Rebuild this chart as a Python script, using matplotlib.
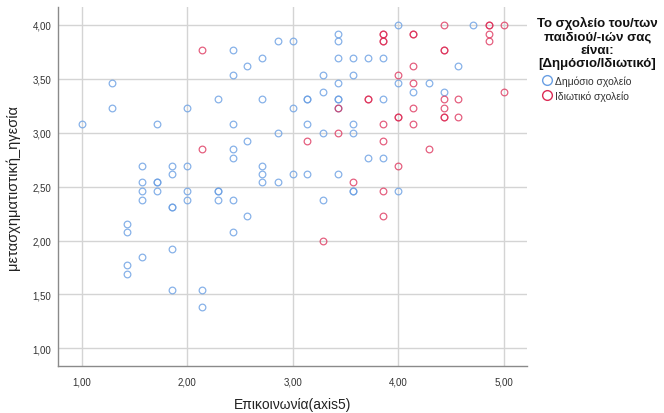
import matplotlib
matplotlib.use("Agg")
import matplotlib.pyplot as plt
from matplotlib.lines import Line2D
from matplotlib.ticker import FuncFormatter

plt.rcParams['font.family'] = ['Liberation Sans', 'DejaVu Sans']

# Δημόσιο σχολείο
public_x = [1.00, 1.29, 1.29, 1.71, 2.00, 2.29, 2.43, 2.43, 2.57, 2.71, 2.71, 2.43,
            2.86, 3.00, 3.43, 3.43, 3.43, 3.57, 3.71, 3.86, 3.29, 3.57, 3.43, 3.29,
            3.14, 3.14, 3.43, 3.43, 3.86, 3.00, 3.43, 3.14, 3.57, 2.86, 3.29, 3.57,
            2.57, 2.43, 2.43, 3.71, 3.86, 1.57, 1.86, 2.00, 2.71, 1.86, 2.71, 3.00,
            3.14, 3.43, 1.57, 1.71, 1.71, 2.71, 2.86, 1.57, 1.71, 2.00, 2.29, 2.29,
            3.57, 3.57, 4.00, 1.57, 2.00, 2.29, 2.43, 3.29, 1.86, 1.86, 2.57, 1.43,
            1.43, 2.43, 1.86, 1.57, 1.43, 1.43, 1.86, 2.14, 2.14, 4.00, 4.71, 4.57,
            4.00, 4.29, 4.14, 4.43]
public_y = [3.08, 3.46, 3.23, 3.08, 3.23, 3.31, 3.77, 3.54, 3.62, 3.69, 3.31, 3.08,
            3.85, 3.85, 3.92, 3.85, 3.69, 3.69, 3.69, 3.69, 3.54, 3.54, 3.46, 3.38,
            3.31, 3.31, 3.31, 3.31, 3.31, 3.23, 3.23, 3.08, 3.08, 3.00, 3.00, 3.00,
            2.92, 2.85, 2.77, 2.77, 2.77, 2.69, 2.69, 2.69, 2.69, 2.62, 2.62, 2.62,
            2.62, 2.62, 2.54, 2.54, 2.54, 2.54, 2.54, 2.46, 2.46, 2.46, 2.46, 2.46,
            2.46, 2.46, 2.46, 2.38, 2.38, 2.38, 2.38, 2.38, 2.31, 2.31, 2.23, 2.15,
            2.08, 2.08, 1.92, 1.85, 1.77, 1.69, 1.54, 1.54, 1.38, 4.00, 4.00, 3.62,
            3.46, 3.46, 3.38, 3.38]

# Ιδιωτικό σχολείο
private_x = [2.14, 2.14, 4.43, 4.86, 4.86, 5.00, 3.86, 3.86, 4.14, 4.14, 4.86, 3.86,
             3.86, 4.86, 4.43, 4.43, 4.14, 4.00, 4.14, 5.00, 3.71, 3.71, 4.43, 4.57,
             3.43, 4.14, 4.43, 4.00, 4.00, 4.43, 4.43, 4.57, 3.86, 4.14, 3.43, 3.14,
             3.86, 4.29, 4.00, 3.57, 3.86, 3.86, 3.29]
private_y = [3.77, 2.85, 4.00, 4.00, 4.00, 4.00, 3.92, 3.92, 3.92, 3.92, 3.92, 3.85,
             3.85, 3.85, 3.77, 3.77, 3.62, 3.54, 3.46, 3.38, 3.31, 3.31, 3.31, 3.31,
             3.23, 3.23, 3.23, 3.15, 3.15, 3.15, 3.15, 3.15, 3.08, 3.08, 3.00, 2.92,
             2.92, 2.85, 2.69, 2.54, 2.46, 2.23, 2.00]

ticks = [1, 2, 3, 4, 5]
legend_title = "Το σχολείο του/των\nπαιδιού/-ιών σας\nείναι:\n[Δημόσιο/Ιδιωτικό]"
legend_labels = ["Δημόσιο σχολείο", "Ιδιωτικό σχολείο"]
blue = "#6A9FE3"
red = "#DC2B55"

fig = plt.figure(figsize=(6.64, 4.14), dpi=100)
ax = fig.add_axes([0.0878, 0.1143, 0.7054, 0.8657])

ax.plot(public_x, public_y, linestyle="none", marker="o", markersize=4.8,
        markerfacecolor="none", markeredgecolor=blue, markeredgewidth=0.9,
        alpha=0.8, zorder=3)
ax.plot(private_x, private_y, linestyle="none", marker="o", markersize=4.8,
        markerfacecolor="none", markeredgecolor=red, markeredgewidth=0.9,
        alpha=0.75, zorder=4)

ax.set_xlim(0.778, 5.218)
ax.set_ylim(0.839, 4.164)
ax.set_xticks(ticks)
ax.set_yticks([1.0, 1.5, 2.0, 2.5, 3.0, 3.5, 4.0])
fmt = FuncFormatter(lambda v, p: f"{v:.2f}".replace(".", ","))
ax.xaxis.set_major_formatter(fmt)
ax.yaxis.set_major_formatter(fmt)
ax.tick_params(axis="both", length=0, labelsize=7, colors="#333333")
ax.tick_params(axis="x", pad=8)
ax.tick_params(axis="y", pad=5)

ax.grid(True, color="#d4d4d4", linewidth=1.0, zorder=0)
ax.set_axisbelow(True)
for side in ("top", "right"):
    ax.spines[side].set_visible(False)
for side in ("left", "bottom"):
    ax.spines[side].set_color("#8a8a8a")
    ax.spines[side].set_linewidth(1.0)

ax.set_xlabel("Επικοινωνία(axis5)", fontsize=10, labelpad=7, color="#222222")
ax.set_ylabel("μετασχηματιστική_ηγεσία", fontsize=10.5, labelpad=9, color="#222222")

fig.text(0.8995, 0.958, legend_title, ha="center", va="top", fontsize=9.5,
         fontweight="bold", linespacing=1.12, color="#111111")

handles = [
    Line2D([], [], linestyle="none", marker="o", markersize=7, markerfacecolor="none",
           markeredgecolor=blue, markeredgewidth=1.0),
    Line2D([], [], linestyle="none", marker="o", markersize=7, markerfacecolor="none",
           markeredgecolor=red, markeredgewidth=1.0),
]
fig.legend(handles, legend_labels, loc="upper left", bbox_to_anchor=(0.818, 0.815),
           frameon=False, fontsize=7.5, handlelength=0.8, handletextpad=0.35,
           labelspacing=0.38, borderpad=0, borderaxespad=0, labelcolor="#333333")

fig.savefig("out.png", dpi=100)
